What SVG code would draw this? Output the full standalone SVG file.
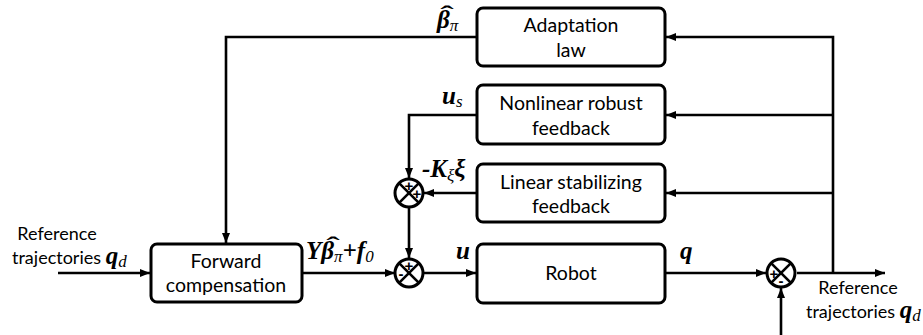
<svg xmlns="http://www.w3.org/2000/svg" width="923" height="335" viewBox="0 0 923 335">
  <defs>
    <marker id="arr" viewBox="0 0 10 8" refX="10" refY="4" markerWidth="10" markerHeight="8" markerUnits="userSpaceOnUse" orient="auto">
      <path d="M0,0 L10,4 L0,8 Z" fill="#000"/>
    </marker>
    <style>
      .box { fill: #fff; stroke: #000; stroke-width: 3; }
      .lbl { font-family: Lato, "Open Sans", sans-serif; font-size: 19.5px; text-anchor: middle; fill: #000; }
      .ref { font-family: Lato, "Open Sans", sans-serif; font-size: 18px; fill: #000; }
      .wire { fill: none; stroke: #000; stroke-width: 2.6; }
      .sum circle { fill: #fff; stroke: #000; stroke-width: 3; }
      .sum line { stroke: #000; stroke-width: 2.6; }
      .sgn { font-family: "Liberation Sans", sans-serif; font-size: 15px; font-weight: bold; text-anchor: middle; fill: #000; }
      .math { font-family: "Liberation Serif", serif; font-style: italic; font-weight: bold; font-size: 25px; fill: #000; }
      .sub { font-weight: normal; font-size: 17px; }
      .hat { font-family: "Liberation Serif", serif; font-weight: bold; font-size: 24px; text-anchor: middle; fill: #000; }
    </style>
  </defs>

  <!-- signal lines -->
  <g id="connectors">
    <!-- reference input into forward compensation -->
    <line class="wire" x1="58" y1="273" x2="150" y2="273" marker-end="url(#arr)"/>
    <!-- forward compensation to lower summing point -->
    <line class="wire" x1="302" y1="273" x2="395" y2="273" marker-end="url(#arr)"/>
    <!-- lower summing point to robot -->
    <line class="wire" x1="424" y1="273" x2="476" y2="273" marker-end="url(#arr)"/>
    <!-- robot output to error summing point -->
    <line class="wire" x1="665" y1="273" x2="766" y2="273" marker-end="url(#arr)"/>
    <!-- error output -->
    <line class="wire" x1="797" y1="273" x2="885" y2="273" marker-end="url(#arr)"/>
    <!-- reference into error summing point from below -->
    <line class="wire" x1="781" y1="335" x2="781" y2="288" marker-end="url(#arr)"/>
    <!-- feedback bus -->
    <polyline class="wire" points="833,273 833,37 666,37" marker-end="url(#arr)"/>
    <line class="wire" x1="833" y1="115" x2="666" y2="115" marker-end="url(#arr)"/>
    <line class="wire" x1="833" y1="193" x2="666" y2="193" marker-end="url(#arr)"/>
    <!-- adaptation estimate to forward compensation -->
    <polyline class="wire" points="477,37 226,37 226,243" marker-end="url(#arr)"/>
    <!-- robust term to upper summing point -->
    <polyline class="wire" points="477,115 409,115 409,178" marker-end="url(#arr)"/>
    <!-- stabilizing term to upper summing point -->
    <line class="wire" x1="477" y1="193" x2="424" y2="193" marker-end="url(#arr)"/>
    <!-- upper summing point to lower summing point -->
    <line class="wire" x1="409" y1="207" x2="409" y2="258" marker-end="url(#arr)"/>
  </g>

  <!-- blocks -->
  <g id="adaptation">
    <rect class="box" x="477" y="8" width="188" height="58" rx="6"/>
    <text class="lbl" x="571" y="32">Adaptation</text>
    <text class="lbl" x="571" y="57">law</text>
  </g>
  <g id="nonlinear">
    <rect class="box" x="477" y="85" width="188" height="59" rx="6"/>
    <text class="lbl" x="571" y="110">Nonlinear robust</text>
    <text class="lbl" x="571" y="135">feedback</text>
  </g>
  <g id="linear">
    <rect class="box" x="477" y="164" width="188" height="58" rx="6"/>
    <text class="lbl" x="571" y="189">Linear stabilizing</text>
    <text class="lbl" x="571" y="213">feedback</text>
  </g>
  <g id="robot">
    <rect class="box" x="477" y="244" width="188" height="59" rx="6"/>
    <text class="lbl" x="571" y="280">Robot</text>
  </g>
  <g id="forward">
    <rect class="box" x="151" y="244" width="151" height="58" rx="6"/>
    <text class="lbl" x="226" y="268">Forward</text>
    <text class="lbl" x="226" y="292">compensation</text>
  </g>

  <!-- summing points -->
  <g id="sum-upper" class="sum">
    <circle cx="409" cy="193" r="14"/>
    <line x1="399.1" y1="183.1" x2="418.9" y2="202.9"/>
    <line x1="418.9" y1="183.1" x2="399.1" y2="202.9"/>
    <text class="sgn" x="409" y="191">+</text>
    <text class="sgn" x="417" y="199">+</text>
  </g>
  <g id="sum-lower" class="sum">
    <circle cx="409" cy="273" r="14"/>
    <line x1="399.1" y1="263.1" x2="418.9" y2="282.9"/>
    <line x1="418.9" y1="263.1" x2="399.1" y2="282.9"/>
    <text class="sgn" x="409" y="271">+</text>
    <text class="sgn" x="401" y="279">-</text>
  </g>
  <g id="sum-error" class="sum">
    <circle cx="781" cy="273" r="14"/>
    <line x1="771.1" y1="263.1" x2="790.9" y2="282.9"/>
    <line x1="790.9" y1="263.1" x2="771.1" y2="282.9"/>
    <text class="sgn" x="774" y="279">+</text>
    <text class="sgn" x="781" y="286">-</text>
  </g>

  <!-- signal labels -->
  <g id="labels">
    <text class="ref" x="57" y="240" text-anchor="middle">Reference</text>
    <text class="ref" x="12" y="264">trajectories <tspan class="math" font-size="21">q</tspan><tspan class="math sub" dy="3">d</tspan></text>

    <text class="ref" x="858" y="294" text-anchor="middle">Reference</text>
    <text class="ref" x="806" y="318">trajectories <tspan class="math" font-size="21">q</tspan><tspan class="math sub" dy="3">d</tspan></text>

    <text class="math" x="437" y="28">β<tspan class="sub" dy="3">π</tspan></text>
    <text class="hat" transform="translate(447,22) scale(1.7,1)">ˆ</text>

    <text class="math" x="442" y="104">u<tspan class="sub" dy="3">s</tspan></text>

    <text class="math" x="422" y="177">-K<tspan class="sub" dy="4">ξ</tspan><tspan dy="-4">ξ</tspan></text>

    <text class="math" x="306" y="259">Yβ<tspan class="sub" dy="3">π</tspan><tspan dy="-3" font-weight="bold">+f</tspan><tspan class="sub" dy="3">0</tspan></text>
    <text class="hat" transform="translate(333,253) scale(1.7,1)">ˆ</text>

    <text class="math" x="456" y="259">u</text>
    <text class="math" x="680" y="259">q</text>
  </g>
</svg>
